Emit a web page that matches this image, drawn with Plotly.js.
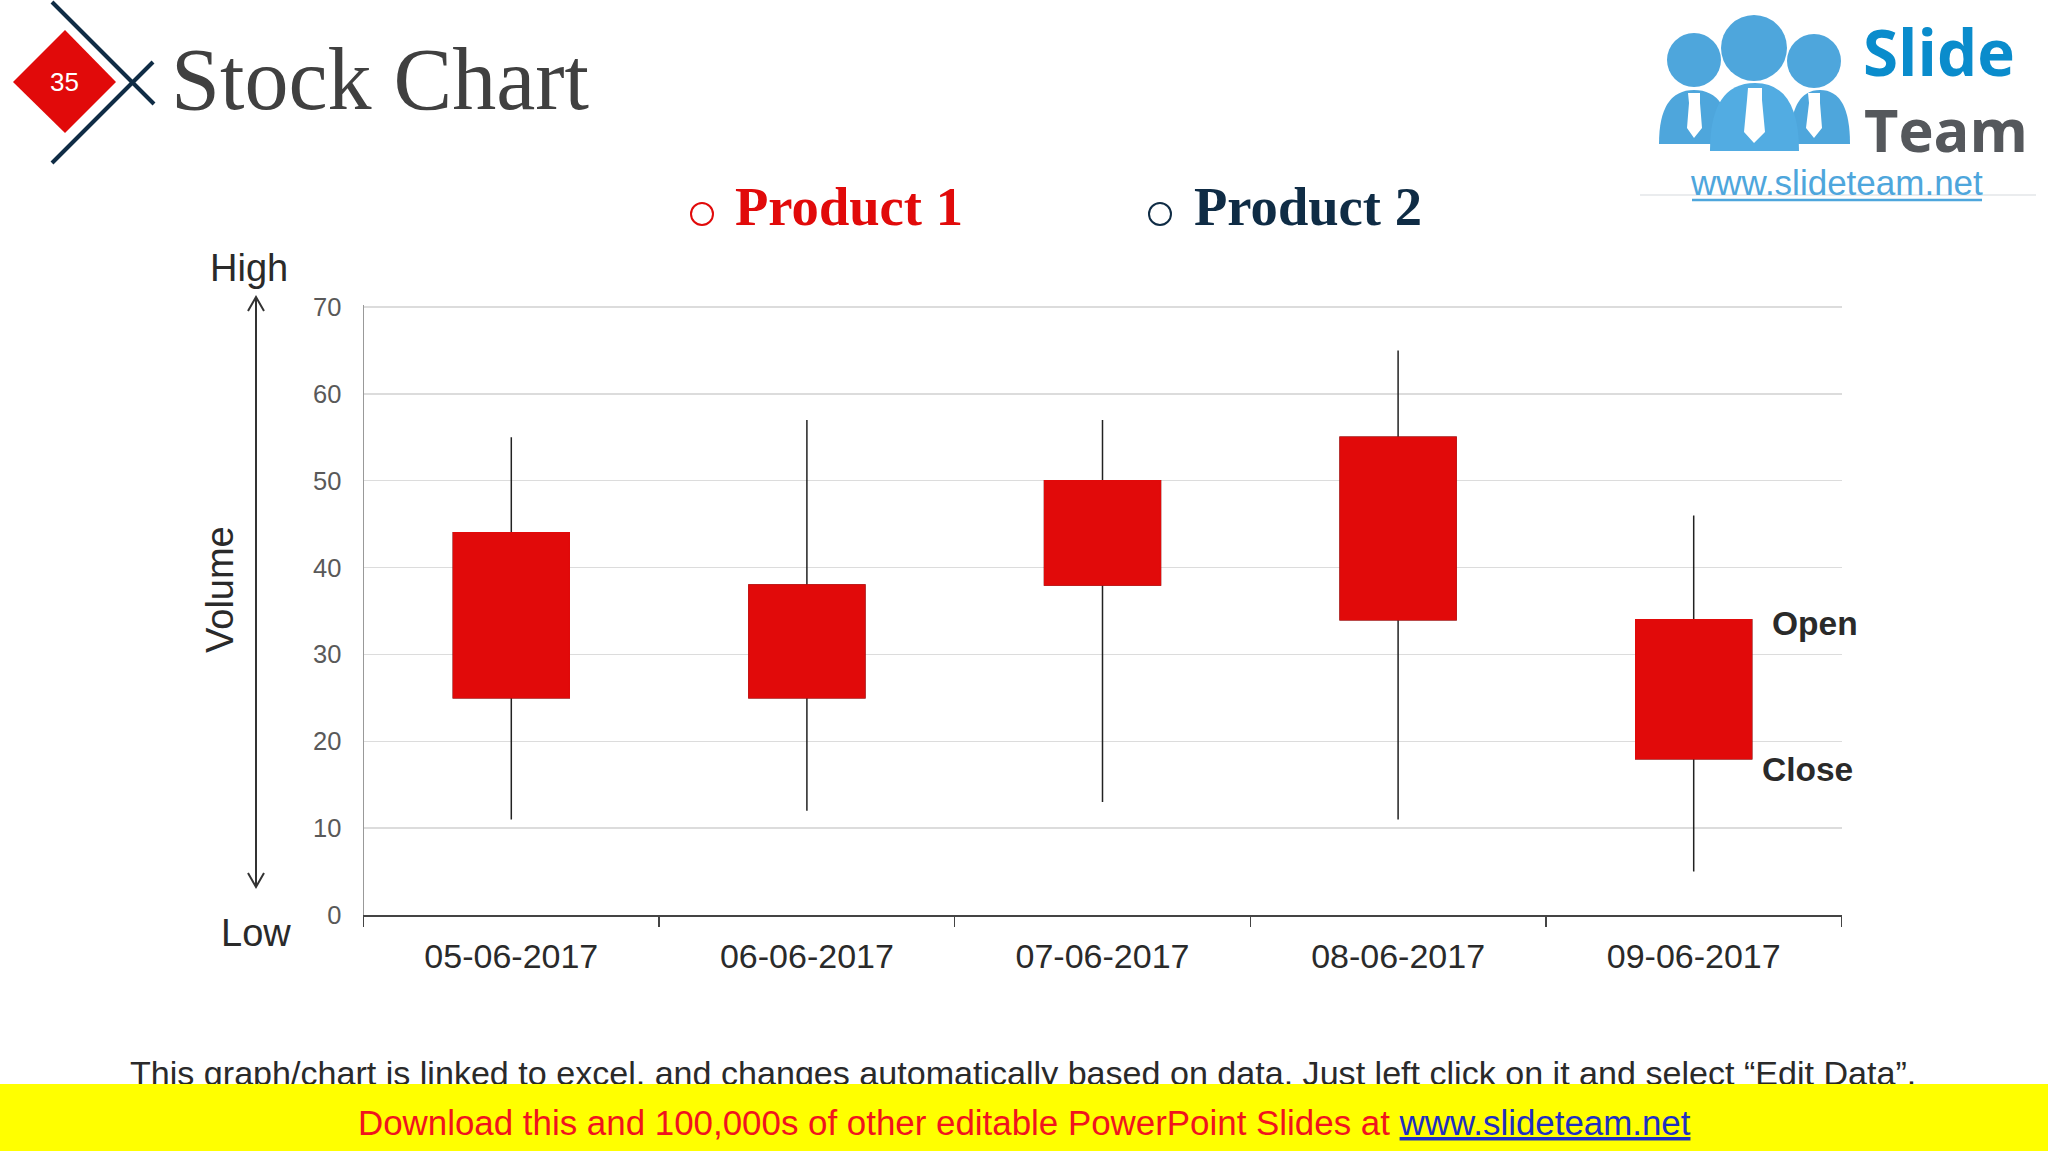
<!DOCTYPE html>
<html><head><meta charset="utf-8">
<script src="https://cdn.plot.ly/plotly-3.0.1.min.js"></script>
<style>html,body{margin:0;padding:0;background:#fff}#c{width:2048px;height:1152px}</style>
</head><body><div id="c"></div>
<script>
const dates = ["05-06-2017","06-06-2017","07-06-2017","08-06-2017","09-06-2017"];
const openVals = [44,38,50,55,34];
const closeVals = [25,25,38,34,18];
const highVals = [55,57,57,65,46];
const lowVals = [11,12,13,11,5];
const yTicks = [0,10,20,30,40,50,60,70];
const legendNames = ["Product 1","Product 2"];

const W=2048,H=1152;
const RED="#e10a0a",NAVY="#0f2c45",INK="#2a2a2a",SANS="Liberation Sans, Arial, sans-serif",SERIF="Liberation Serif, serif";
const px=x=>x/W, py=y=>1-y/H;
const path=s=>s.replace(/(-?[\d.]+),(-?[\d.]+)/g,(m,a,b)=>px(+a)+","+py(+b));
const pathShape=(s,fill,line,lw)=>({type:"path",xref:"paper",yref:"paper",path:path(s),fillcolor:fill||"rgba(0,0,0,0)",line:{color:line||"rgba(0,0,0,0)",width:lw||0},layer:"below"});
const circle=(cx,cy,r,fill,line,lw)=>({type:"circle",xref:"paper",yref:"paper",x0:px(cx-r),x1:px(cx+r),y0:py(cy+r),y1:py(cy-r),fillcolor:fill||"rgba(0,0,0,0)",line:{color:line||"rgba(0,0,0,0)",width:lw||0},layer:"below"});
const text=(t,x,y,size,color,family,opts)=>Object.assign({xref:"paper",yref:"paper",x:px(x),y:py(y),text:t,showarrow:false,xanchor:"center",yanchor:"middle",font:{size:size,color:color,family:family},borderpad:0,borderwidth:0},opts||{});

const BLUE="#4ea6dc";
const shapes=[
 pathShape("M13,82 L65,30 L116,82 L65,133 Z",RED),
 pathShape("M52,2 L154,104",null,NAVY,4),
 pathShape("M52,163 L153,62",null,NAVY,4),
 circle(702,214,11,null,RED,2),
 circle(1160,214,11,null,NAVY,2),
 pathShape("M256,298 L256,886",null,"#333333",2),
 pathShape("M248,311 L256,297 L264,311",null,"#333333",2),
 pathShape("M248,873 L256,887 L264,873",null,"#333333",2),
 // logo
 circle(1694,60,27,BLUE),circle(1814,61,27,BLUE),
 pathShape("M1659,144 Q1659,90 1694,90 Q1730,90 1730,144 Z",BLUE),
 pathShape("M1790,144 Q1790,90 1820,90 Q1850,90 1850,144 Z",BLUE),
 circle(1754,48,33,BLUE),
 pathShape("M1710,151 Q1710,83 1755,83 Q1799,83 1799,151 Z","#52ace2"),
 pathShape("M1688,93 L1700,93 L1700,103 L1702,128 L1694,138 L1687,128 L1689,103 Z","#ffffff"),
 pathShape("M1808,93 L1820,93 L1820,103 L1822,128 L1814,138 L1806,128 L1809,103 Z","#ffffff"),
 pathShape("M1748,88 L1762,88 L1762,100 L1765,132 L1754,143 L1744,132 L1747,100 Z","#ffffff"),
 pathShape("M1640,195 L2036,195",null,"#d5d9dd",1),
 pathShape("M1692,200 L1982,200",null,BLUE,2.5)
];

const annotations=[
 text("35",64.5,82,26,"#ffffff",SANS),
 text("Stock Chart",171,80,88,"#404040",SERIF,{xanchor:"left"}),
 text("<b>"+legendNames[0]+"</b>",735,206.5,54.6,RED,SERIF,{xanchor:"left"}),
 text("<b>"+legendNames[1]+"</b>",1193.5,206.5,54.6,NAVY,SERIF,{xanchor:"left"}),
 text("High",249,268,38,INK,SANS),
 text("Low",255.5,933,38,INK,SANS),
 text("Volume",220,590,38,INK,SANS,{textangle:-90}),
 text("<b>Open</b>",1815,623,33.5,INK,SANS),
 text("<b>Close</b>",1807.5,769.5,33.5,INK,SANS),
 text("<b>Slide</b>",1939,51,63.7,"#0a8ccc","Open Sans, sans-serif"),
 text("<b>Team</b>",1946,129,59.5,"#55585c","Open Sans, sans-serif"),
 text("www.slideteam.net",1836,183,35,BLUE,SANS),
 text("This graph/chart is linked to excel, and changes automatically based on data. Just left click on it and select “Edit Data”.",1023,1073,34.1,INK,SANS),
 text(" ",0,1117.5,10,"#ffff00",SANS,{xanchor:"left",width:W,height:67,bgcolor:"#ffff00"}),
 text('Download this and 100,000s of other editable PowerPoint Slides at <span style="color:#1f2fc0"><u>www.slideteam.net</u></span>',1024.5,1122.5,34.9,"#f0141e",SANS)
];

const candle=(o,h,l,c,color,width)=>({type:"candlestick",x:dates,open:o,high:h,low:l,close:c,whiskerwidth:0,
 increasing:{line:{color:color,width:width},fillcolor:RED},decreasing:{line:{color:color,width:width},fillcolor:RED},
 hoverinfo:"skip",showlegend:false});

const data=[
 candle(openVals,highVals,lowVals,closeVals,"#222222",1.5),
 candle(openVals,openVals,closeVals,closeVals,RED,1.5)
];

const layout={
 width:W,height:H,margin:{l:0,r:0,t:0,b:0,pad:0},paper_bgcolor:"#ffffff",plot_bgcolor:"#ffffff",
 showlegend:false,boxmode:"overlay",boxgap:0.44,
 xaxis:{type:"category",domain:[363.5/W,1841.5/W],range:[-0.5,4.5],rangeslider:{visible:false},
  categoryorder:"array",categoryarray:dates,tickson:"boundaries",ticks:"outside",ticklen:10,tickwidth:1.5,tickcolor:"#444444",
  showline:true,linecolor:"#444444",linewidth:2,showgrid:false,zeroline:false,fixedrange:true,
  tickfont:{size:34,color:INK,family:SANS},ticklabelstandoff:10},
 yaxis:{domain:[1-915/H,1-305.26/H],range:[0,70.2],tickmode:"array",tickvals:yTicks,ticktext:yTicks.map(String),
  showgrid:true,gridcolor:"#dcdcdc",gridwidth:1.5,zeroline:false,showline:true,linecolor:"#999999",linewidth:1,ticks:"",fixedrange:true,
  tickfont:{size:25.5,color:"#595959",family:SANS},ticklabelstandoff:16},
 shapes:shapes,annotations:annotations
};
Plotly.newPlot("c",data,layout,{displayModeBar:false,staticPlot:true});
</script></body></html>
